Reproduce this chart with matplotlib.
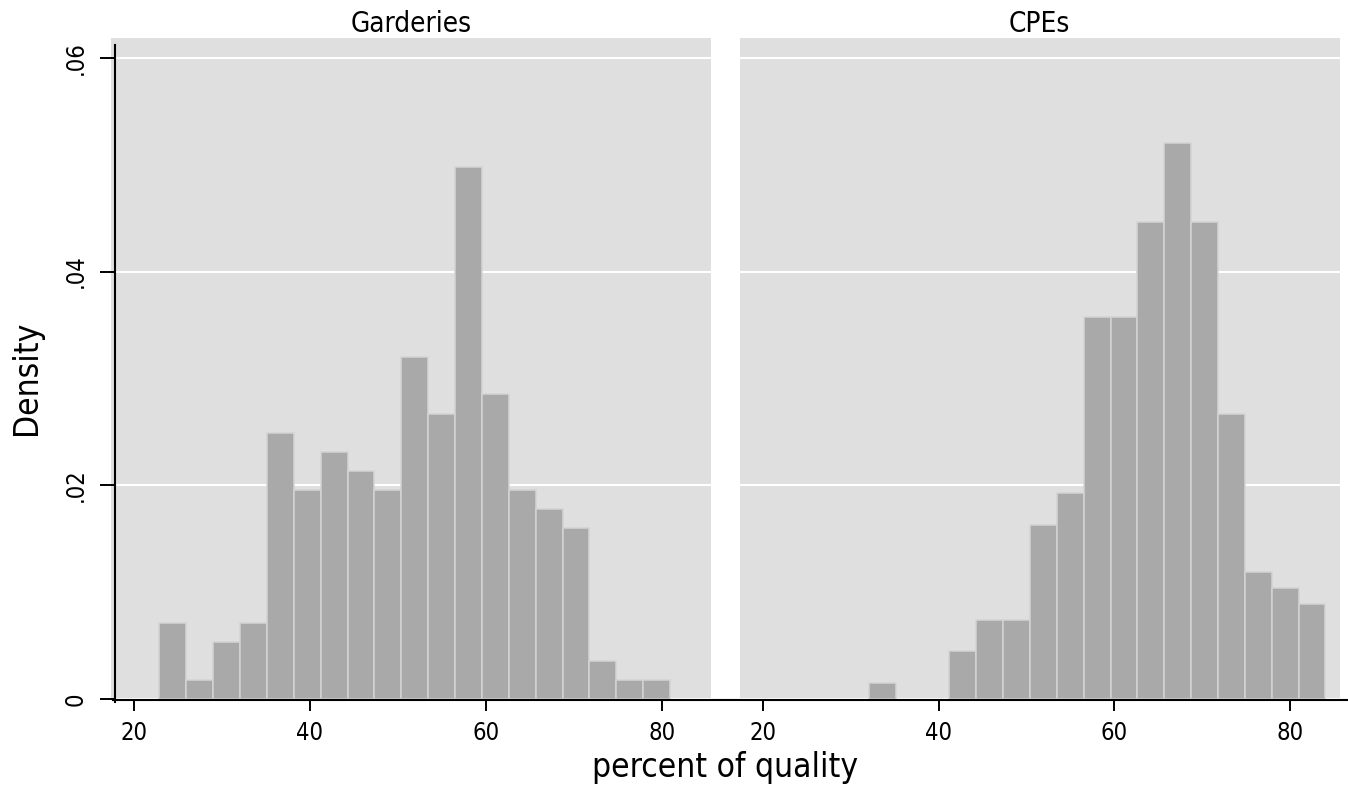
import numpy as np
import matplotlib
matplotlib.use("Agg")
import matplotlib.pyplot as plt
from matplotlib.lines import Line2D
from matplotlib import font_manager

# histogram bins (percent of quality), shared by both panels
BIN_START = 22.9
BIN_WIDTH = 3.055
N_BINS = 20

garderies_density = [0.0071, 0.0018, 0.0053, 0.0071, 0.0249, 0.0196, 0.0231, 0.0213,
                     0.0196, 0.0320, 0.0267, 0.0498, 0.0285, 0.0196, 0.0178, 0.0160,
                     0.0036, 0.0018, 0.0018, 0.0]
cpes_density = [0.0, 0.0, 0.0, 0.0015, 0.0, 0.0, 0.0045, 0.0074,
                0.0074, 0.0163, 0.0193, 0.0357, 0.0357, 0.0446, 0.0520, 0.0446,
                0.0267, 0.0119, 0.0104, 0.0089]

panel_titles = ["Garderies", "CPEs"]
x_ticks = [20, 40, 60, 80]
y_ticks = [0, 0.02, 0.04, 0.06]
y_ticklabels = ["0", ".02", ".04", ".06"]

names = {f.name for f in font_manager.fontManager.ttflist}
if "Liberation Sans Narrow" in names:
    plt.rcParams["font.family"] = ["Liberation Sans Narrow", "DejaVu Sans"]
else:
    plt.rcParams["font.family"] = ["DejaVu Sans"]
    plt.rcParams["font.stretch"] = "condensed"

BG = "#dfdfdf"
BAR = "#a9a9a9"
W, H = 1348, 787

fig = plt.figure(figsize=(W / 100, H / 100), dpi=100)

def px_box(x0, y0, x1, y1):
    return [x0 / W, 1 - y1 / H, (x1 - x0) / W, (y1 - y0) / H]

ax_l = fig.add_axes(px_box(111, 37.5, 711, 699))
ax_r = fig.add_axes(px_box(740, 37.5, 1339.5, 699))

edges = BIN_START + BIN_WIDTH * np.arange(N_BINS)

for ax, dens, title in zip([ax_l, ax_r], [garderies_density, cpes_density], panel_titles):
    ax.set_facecolor(BG)
    dens = np.array(dens)
    keep = dens > 0
    ax.bar(edges[keep], dens[keep], width=BIN_WIDTH, align="edge",
           color=BAR, edgecolor="#d4d4d4", linewidth=1.1, zorder=2)
    ax.set_xlim(17.4, 85.6)
    ax.set_ylim(0, 0.0619)
    ax.set_yticks(y_ticks)
    ax.grid(axis="y", color="white", linewidth=1.5)
    ax.set_axisbelow(True)
    ax.set_xticks(x_ticks)
    ax.tick_params(axis="x", direction="out", length=8.6, width=1.4, pad=7,
                   labelsize=17, color="black")
    for s in ["top", "right", "bottom"]:
        ax.spines[s].set_visible(False)
    ax.set_title(title, fontsize=20, pad=3)

# left panel y axis
ax_l.spines["left"].set_position(("data", 17.82))
ax_l.spines["left"].set_bounds(-0.0003, 0.0612)
ax_l.spines["left"].set_linewidth(1.5)
ax_l.set_yticklabels(y_ticklabels, rotation=90, va="center")
ax_l.tick_params(axis="y", direction="out", length=10.6, width=1.4, pad=9,
                 labelsize=17)

ax_r.spines["left"].set_visible(False)
ax_r.tick_params(axis="y", left=False, labelleft=False)

# shared x axis line along the bottom
fig.add_artist(Line2D([113 / W, 1.0], [1 - 700 / H, 1 - 700 / H],
                      color="black", linewidth=1.5))

fig.text(725 / W, 1 - 768 / H, "percent of quality", ha="center", va="center",
         fontsize=24)
fig.text(26 / W, 1 - 378 / H, "Density", ha="center", va="center",
         rotation=90, fontsize=24)

fig.savefig("out.png", dpi=100)
